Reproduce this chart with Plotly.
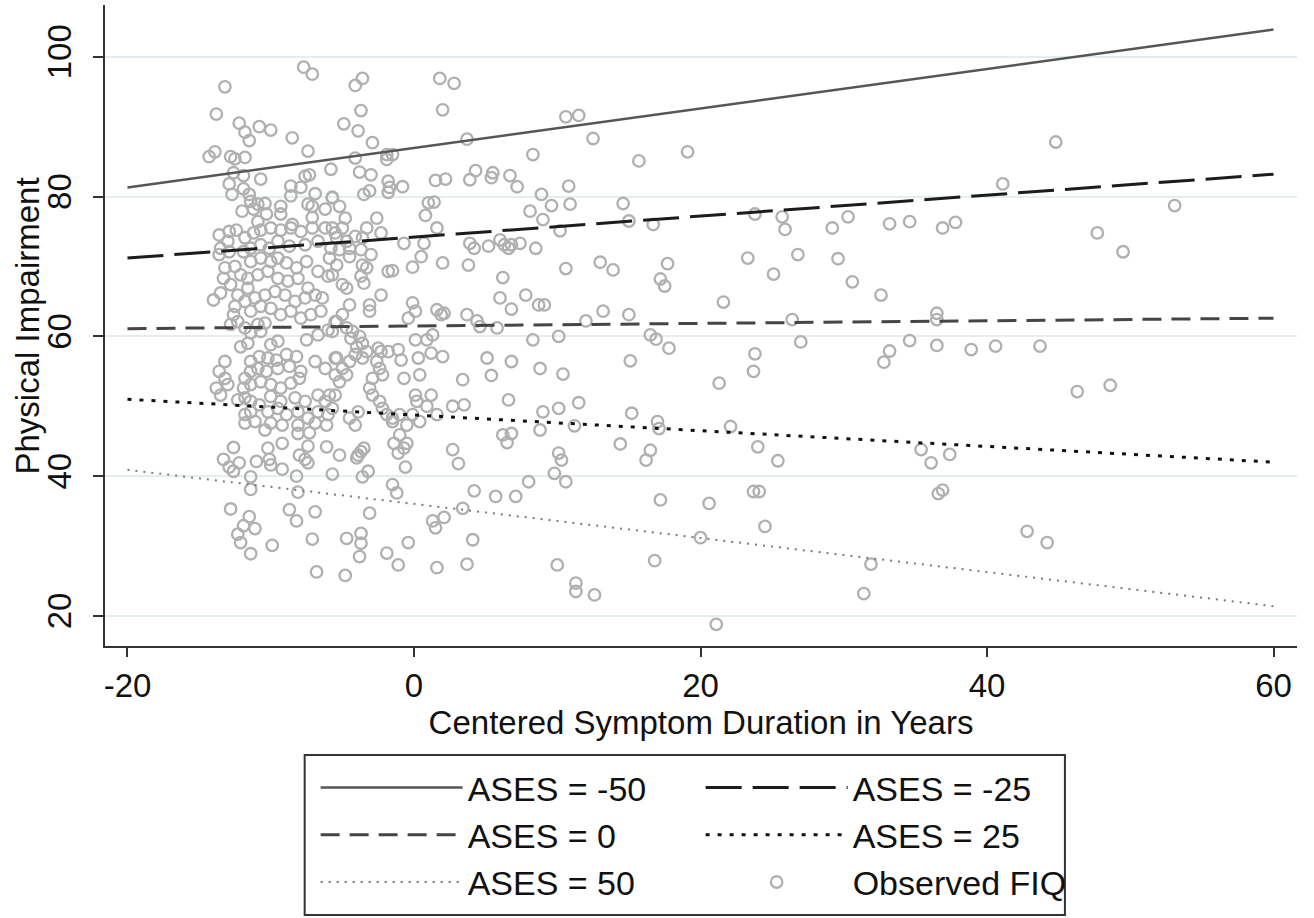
import plotly.graph_objects as go

# ---------------- data ----------------
# fitted lines: predicted physical impairment at the ends of the duration range
duration_ends = [-20, 60]
ases_levels = [-50, -25, 0, 25, 50]
pred_start = [81.3, 71.2, 61.1, 51.0, 40.9]
pred_end = [103.9, 83.2, 62.6, 42.0, 21.4]

x_ticks = [-20, 0, 20, 40, 60]
x_tick_labels = ["-20", "0", "20", "40", "60"]
y_ticks = [20, 40, 60, 80, 100]
y_tick_labels = ["20", "40", "60", "80", "100"]

# observed FIQ (centered symptom duration, physical impairment)
obs_duration = [
    # upper-left
    -7.7, -7.1, -13.2, -13.8, -12.2, -11.8, -11.5, -10.8, -10.0, -8.5, -7.4, -14.3, -13.9, -12.8, -12.5, -11.8,
    -5.8, -12.6, -11.9, -10.7, -7.6, -7.3, -12.9, -8.6, -7.9, -12.7, -11.9, -11.5, -6.9, -8.6, -5.7, -12.0,
    -11.4, -10.9, -10.4, -11.2, -9.3, -10.3, -9.3, -7.4, -7.1, -6.2, -7.1,
    # upper-middle
    -3.6, -4.1, 1.8, 2.8, -3.7, 2.0, -4.9, -3.9, -2.9, 3.7, 8.3, -4.1, -1.9, -1.5, -1.9, -3.8, -3.0, -1.8,
    -1.7, -0.8, -3.1, -3.5, -1.8, 1.5, 2.2, 3.9, 4.3, 5.4, 5.5, 6.7, 7.2, 8.9, 9.6, 8.1, -5.7, -5.2, 1.0,
    1.4, 0.8, -4.8, -2.6,
    # upper-right
    10.6, 11.5, 12.5, 15.7, 19.1, 10.8, 10.9, 14.6, 10.2, 15.0, 16.7, 23.8, 25.7, 25.9, 29.2, 30.3, 33.2,
    34.6, 10.6, 13.0, 13.9, 17.7, 17.2, 17.5, 23.3, 26.8, 25.1, 29.6, 30.6, 32.6, 21.6, 12.0, 13.2, 15.0, 26.4,
    # lower-right
    10.1, 16.5, 16.9, 17.8, 15.1, 10.4, 23.8, 23.7, 21.3, 27.0, 33.2, 32.8, 34.6, 10.1, 11.5, 11.2, 15.2,
    17.0, 17.1, 22.1, 14.4, 16.5, 16.2, 24.0, 25.4, 35.4, 10.1, 10.3, 10.6, 9.8, 17.2, 20.6, 23.7, 24.1,
    24.5, 20.0, 16.8, 10.0, 11.3, 11.3, 12.6, 31.9, 31.4, 21.1,
    # far right
    44.8, 41.1, 36.9, 37.8, 47.7, 49.5, 53.1, 36.5, 36.5, 36.5, 38.9, 40.6, 43.7, 46.3, 48.6, 36.1, 37.4,
    36.6, 36.9, 42.8, 44.2,
    # lower-left
    -12.6, -13.3, -12.9, -12.6, -12.2, -11.0, -10.2, -10.1, -10.0, -9.2, -9.2, -10.4, -8.1, -7.3, -7.4,
    -8.0, -7.6, -7.4, -6.1, -5.7, -11.4, -11.4, -8.2, -8.1, -12.8, -11.5, -8.7, -8.2, -6.9, -11.9, -11.1,
    -12.3, -12.1, -11.4, -9.9, -7.1, -6.8,
    # lower-middle
    -5.2, -3.7, -3.5, -3.9, -4.0, -3.2, -3.6, -1.4, -1.0, -1.1, -0.7, -0.5, -0.6, 2.7, 3.1, 6.2, 6.8, 6.5,
    8.8, 8.0, 4.2, 5.7, 7.1, -1.5, -1.2, -3.1, 1.3, 2.1, 1.5, 3.4, -4.7, -3.7, -3.7, -3.8, -1.9, -0.4,
    -1.1, 1.6, 3.7, 4.1, -4.8,
    # dense left cluster
    -13.6, -12.9, -12.4, -13.0, -13.5, -12.9, -13.6, -11.8, -11.2, -10.7, -10.0, -9.3, -8.6, -7.9, -7.1,
    -6.2, -5.5, -11.9, -11.4, -10.7, -10.1, -9.5, -8.7, -7.6, -6.7, -5.8, -10.9, -8.5,
    -13.2, -12.5, -12.1, -13.3, -12.8, -11.4, -10.7, -10.0, -9.5, -8.9, -8.2, -7.5, -6.7, -6.0, -11.6,
    -10.9, -10.2, -9.5, -8.8, -8.1, -7.4, -14.0, -13.5, -12.3, -11.6, -11.1, -10.4, -9.7, -9.0, -8.3,
    -7.6, -6.9, -6.4, -12.5, -11.8, -11.4, -10.7, -10.0, -9.3, -8.6, -7.9, -7.2, -6.5, -12.6, -12.3,
    -12.8, -11.8, -10.9, -10.4, -11.4, -10.7, -7.5, -6.7, -6.0, -5.5, -12.1, -11.6, -10.0, -9.5,
    -13.2, -13.6, -13.2, -13.8, -13.5, -13.0, -11.4, -10.8, -10.2, -9.6, -8.9, -8.2, -10.9, -10.3, -9.5,
    -8.7, -7.9, -6.9, -6.2, -5.5, -11.8, -11.4, -11.9, -11.4, -10.7, -10.0, -9.3, -8.6, -8.0, -11.8,
    -12.3, -11.4, -10.0, -9.3, -8.3, -7.6, -6.7, -6.2, -5.5, -11.8, -11.4, -10.8, -10.2, -9.5, -8.9,
    -8.1, -7.4, -6.7, -6.0, -11.8, -11.1, -10.0, -9.2, -8.1, -6.9, -6.1,
    # dense middle cluster
    -5.0, -5.7, -3.3, -2.3, 1.6, 9.0, -5.4, -4.7, -4.1, -3.6, -5.2, -4.5, -3.7, -3.0, -0.7, 0.7, 0.5,
    -0.1, 2.0, 3.8, 3.9, 4.2, 5.2, 6.0, 6.3, 6.6, 6.8, 7.4, 8.5, 6.2, -5.9, -5.4, -4.5, -3.6, -3.3,
    -5.7, -3.7, -3.5, -1.8, -1.5, -5.0, -4.7, -2.3, -3.1, -3.1, -4.5, -5.0, -5.4, -0.1, 0.1, -0.4, 1.6,
    2.1, 1.9, 3.7, 4.4, 4.6, 5.8, 6.0, 6.8, 7.8, 8.7, 9.1,
    -5.7, -4.7, -4.3, -4.4, -3.8, -3.6, -4.0, -3.3, -4.1, -3.6, -4.5, -5.4, -5.0, -5.5, -4.7, -5.2,
    -5.9, -5.7, -2.5, -2.3, -1.8, -1.1, -0.9, -2.6, -2.4, -2.9, -3.1, -2.2, -2.9, -2.4, -2.2, -1.9,
    -1.5, -1.0, -0.7, 0.4, 0.1, 0.9, 1.3, 0.3, 1.2, 2.0, 0.1, 0.2, 1.2, 0.9, -0.1, 0.4, 1.6, 2.7, 3.5,
    3.4, 5.1, 5.4, 6.8, 6.6, 8.3, 8.8, 9.0, -3.9, -4.5, -4.1, -1.5, -0.5,
]
obs_impairment = [
    # upper-left
    98.5, 97.5, 95.7, 91.8, 90.5, 89.2, 88.0, 90.0, 89.5, 88.4, 86.5, 85.7, 86.4, 85.7, 85.4, 85.6,
    83.9, 83.4, 83.0, 82.5, 82.9, 83.1, 81.8, 81.5, 81.3, 80.3, 81.1, 80.3, 80.4, 80.1, 79.8, 77.9,
    79.3, 78.9, 79.0, 78.2, 78.6, 77.5, 77.5, 78.9, 78.6, 78.2, 77.0,
    # upper-middle
    96.9, 95.9, 96.9, 96.2, 92.3, 92.4, 90.4, 89.4, 87.7, 88.2, 86.0, 85.5, 86.0, 86.0, 85.3, 83.5, 83.1, 82.2,
    81.3, 81.4, 80.8, 80.3, 80.6, 82.3, 82.5, 82.4, 83.7, 82.7, 83.4, 83.0, 81.4, 80.3, 78.7, 77.9, 79.9, 78.6, 79.1,
    79.2, 77.3, 76.9, 76.9,
    # upper-right
    91.4, 91.6, 88.3, 85.1, 86.4, 81.5, 78.9, 79.0, 75.1, 76.5, 76.0, 77.5, 77.1, 75.3, 75.5, 77.1, 76.1,
    76.4, 69.7, 70.6, 69.5, 70.4, 68.2, 67.2, 71.2, 71.7, 68.9, 71.1, 67.8, 65.9, 64.9, 62.2, 63.6, 63.1, 62.4,
    # lower-right
    60.0, 60.2, 59.6, 58.3, 56.5, 54.6, 57.5, 55.0, 53.3, 59.2, 57.9, 56.3, 59.4, 49.7, 50.5, 47.2, 49.0,
    47.8, 46.8, 47.1, 44.6, 43.7, 42.3, 44.2, 42.2, 43.8, 43.3, 42.3, 39.2, 40.4, 36.6, 36.1, 37.8, 37.8,
    32.8, 31.2, 27.9, 27.3, 24.7, 23.5, 23.0, 27.4, 23.2, 18.8,
    # far right
    87.8, 81.8, 75.5, 76.3, 74.8, 72.1, 78.7, 63.3, 62.4, 58.7, 58.1, 58.6, 58.6, 52.1, 53.0, 41.9, 43.1,
    37.5, 38.0, 32.1, 30.5,
    # lower-left
    44.1, 42.4, 41.3, 40.7, 41.9, 42.1, 44.0, 42.4, 41.6, 44.7, 41.0, 46.6, 46.1, 46.2, 44.3,
    43.0, 42.4, 41.9, 44.2, 40.3, 39.9, 38.1, 40.0, 37.7, 35.3, 34.2, 35.2, 33.6, 34.9, 32.9, 32.5,
    31.7, 30.5, 28.9, 30.1, 31.0, 26.3,
    # lower-middle
    43.0, 43.5, 44.0, 43.0, 42.6, 40.7, 39.9, 44.7, 45.9, 43.3, 44.0, 44.7, 41.3, 43.8, 41.8, 45.9, 46.1, 44.8,
    46.6, 39.2, 37.9, 37.1, 37.1, 38.8, 37.6, 34.7, 33.6, 34.1, 32.6, 35.4, 31.1, 31.8, 30.4, 28.5, 29.0, 30.5,
    27.3, 26.9, 27.4, 30.9, 25.8,
    # dense left cluster
    74.5, 75.0, 75.2, 73.6, 72.6, 72.1, 71.7, 74.1, 74.8, 75.2, 75.5, 75.2, 75.5, 75.0, 75.5,
    75.5, 74.8, 72.1, 72.6, 73.1, 72.6, 73.6, 72.9, 73.1, 73.6, 72.6, 76.4, 76.0,
    69.8, 70.0, 68.8, 68.3, 67.4, 70.7, 71.2, 70.7, 71.2, 70.5, 69.8, 70.7, 69.3, 68.6, 68.3,
    68.8, 69.3, 68.3, 67.9, 68.3, 66.9, 65.2, 66.2, 65.9, 66.9, 65.5, 65.9, 66.4, 65.9, 65.0,
    65.5, 65.9, 65.5, 64.3, 65.0, 63.6, 64.3, 64.0, 63.1, 63.6, 62.6, 63.1, 63.6, 63.1, 62.1,
    61.7, 61.2, 61.7, 61.9, 60.5, 60.7, 59.5, 60.2, 60.9, 62.1, 58.5, 59.0, 58.8, 59.3,
    56.4, 55.0, 54.0, 52.6, 51.6, 53.1, 56.4, 57.1, 56.9, 56.6, 57.4, 57.1, 55.4, 55.0, 55.4,
    55.7, 55.0, 56.4, 55.4, 56.9, 54.0, 55.0, 52.6, 53.1, 53.5, 53.1, 52.6, 53.3, 54.0, 51.2,
    50.9, 50.7, 51.4, 50.7, 51.2, 50.7, 51.6, 50.7, 51.6, 48.8, 49.2, 50.2, 49.2, 49.7, 48.8,
    49.2, 48.3, 49.2, 48.8, 47.6, 47.8, 47.6, 47.3, 47.3, 47.6, 47.3,
    # dense middle cluster
    75.5, 75.5, 75.5, 74.8, 75.5, 76.7, 74.1, 73.6, 74.3, 74.1, 72.4, 72.6, 72.4, 71.7, 73.3, 73.3, 71.4,
    69.9, 70.5, 70.2, 73.3, 72.6, 72.9, 73.8, 73.1, 72.6, 73.1, 73.3, 72.6, 68.4, 71.2, 70.2, 71.4, 70.2, 69.8,
    68.8, 68.6, 67.6, 69.3, 69.4, 67.4, 66.9, 65.9, 64.5, 63.6, 64.5, 63.1, 62.1, 64.8, 63.6, 62.6, 63.8,
    63.3, 63.1, 63.1, 62.2, 61.4, 61.2, 65.5, 63.9, 65.9, 64.5, 64.5,
    60.7, 61.2, 60.7, 59.7, 60.0, 59.0, 58.5, 57.8, 57.4, 56.9, 56.4, 56.9, 55.4, 54.5, 54.5, 53.5,
    51.6, 49.7, 58.3, 57.8, 57.8, 58.1, 56.6, 56.4, 55.4, 54.0, 52.6, 54.5, 51.6, 50.7, 49.7, 48.8,
    48.3, 48.8, 54.0, 54.5, 59.5, 59.5, 60.2, 56.9, 57.6, 57.1, 51.6, 50.7, 51.6, 50.0, 48.8, 47.8, 48.8, 50.0, 50.2,
    53.8, 56.9, 54.4, 56.4, 50.9, 59.5, 55.4, 49.2, 49.2, 48.3, 47.3, 47.8, 47.3,
]

# ---------------- styling ----------------
FONT = "Liberation Sans, Arial, Helvetica, sans-serif"
line_styles = {
    -50: dict(color="#565656", width=2.5, dash="solid"),
    -25: dict(color="#1c1c1c", width=3, dash="36px,11px"),
    0: dict(color="#454545", width=3, dash="19px,10px"),
    25: dict(color="#111111", width=3, dash="4px,8px"),
    50: dict(color="#7a7a7a", width=2, dash="2px,6px"),
}
legend_of = {-50: "legend", -25: "legend2", 0: "legend", 25: "legend2", 50: "legend"}

fig = go.Figure()

fig.add_trace(go.Scatter(
    x=obs_duration, y=obs_impairment, mode="markers", name="Observed FIQ",
    marker=dict(symbol="circle-open", size=11.5, color="#b0b0b0", line=dict(width=2.3, color="#b0b0b0")),
    legend="legend2", legendrank=6, hoverinfo="skip",
))

for i, (lvl, y0, y1) in enumerate(zip(ases_levels, pred_start, pred_end)):
    fig.add_trace(go.Scatter(
        x=duration_ends, y=[y0, y1], mode="lines", name=f"ASES = {lvl}",
        line=line_styles[lvl], legend=legend_of[lvl], legendrank=i + 1, hoverinfo="skip",
    ))

axis_common = dict(
    showline=True, linecolor="#333333", linewidth=2, ticks="outside", tickcolor="#333333",
    tickwidth=2, zeroline=False, mirror=False, automargin=False,
    tickfont=dict(family=FONT, size=33, color="#111111"),
)

legend_common = dict(
    orientation="v", y=-0.1763, xanchor="left", yanchor="top",
    font=dict(family=FONT, size=34, color="#111111"), itemwidth=142,
    bgcolor="rgba(0,0,0,0)", borderwidth=0, tracegroupgap=0,
)

fig.update_layout(
    width=1314, height=918,
    margin=dict(l=105, r=17, t=5, b=272, autoexpand=False),
    paper_bgcolor="white", plot_bgcolor="white",
    font=dict(family=FONT, color="#111111"),
    xaxis=dict(
        range=[-21.57, 61.64], tickmode="array", tickvals=x_ticks, ticktext=x_tick_labels,
        ticklen=9, showgrid=False,
        title=dict(text="Centered Symptom Duration in Years", font=dict(family=FONT, size=33), standoff=3),
        **axis_common,
    ),
    yaxis=dict(
        range=[15.7, 107.4], tickmode="array", tickvals=y_ticks, ticktext=y_tick_labels,
        ticklen=10, tickangle=-90, ticklabelstandoff=9,
        showgrid=True, gridcolor="#e2eef0", gridwidth=2,
        **axis_common,
    ),
    annotations=[dict(
        text="Physical Impairment", textangle=-90, xref="paper", yref="paper",
        x=-0.0646, y=0.5, xanchor="center", yanchor="middle", showarrow=False,
        font=dict(family=FONT, size=33, color="#111111"),
    )],
    legend=dict(x=0.1767, **legend_common),
    legend2=dict(x=0.4997, **legend_common),
    shapes=[dict(
        type="rect", xref="paper", yref="paper", x0=0.1675, x1=0.8053, y0=-0.4197, y1=-0.170,
        line=dict(color="#333333", width=2), fillcolor="rgba(0,0,0,0)", layer="below",
    )],
)

# remove the default page margin so the figure starts at the window's top-left corner
fig.write_html(
    "out.html",
    config={"displayModeBar": False},
    post_script="document.body.style.margin='0';",
)
